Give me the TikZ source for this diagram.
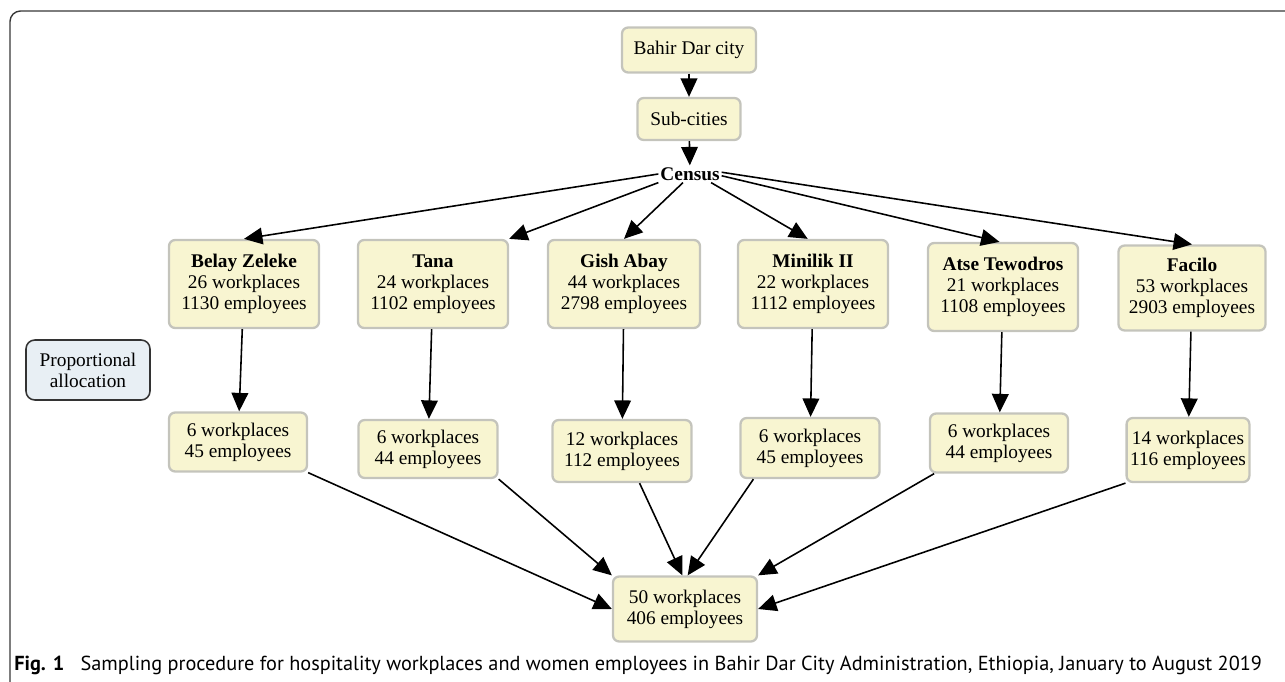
\documentclass[tikz,border=0pt]{standalone}
\usepackage{fontspec}
\setmainfont{Liberation Serif}
\newfontfamily\capfont{PT Sans}
\usepackage{xcolor}
\usetikzlibrary{arrows.meta}

\definecolor{boxfill}{RGB}{248,245,209}
\definecolor{boxline}{RGB}{196,196,188}
\definecolor{notefill}{RGB}{232,239,244}
\definecolor{frameline}{RGB}{55,55,55}

\begin{document}
\begin{tikzpicture}[x=0.02cm, y=-0.02cm,
    box/.style={draw=boxline, line width=1.3pt, fill=boxfill, rounded corners=3.5pt,
        align=center, inner sep=2pt, font=\fontsize{11}{12}\selectfont},
    note/.style={draw=black!80, line width=0.9pt, fill=notefill, rounded corners=5pt,
        align=center, inner sep=2pt, font=\fontsize{11}{12}\selectfont},
    edge/.style={line width=0.9pt, -{Triangle[length=10.5pt,width=9.5pt]}}]
    \useasboundingbox (0,0) rectangle (1285,682);

    % frame round the figure
    \draw[frameline, line width=0.8pt, rounded corners=6pt] (10,682) -- (10,11) -- (1285,11);

    \node[box, minimum width=2.68cm, minimum height=0.9cm] (city) at (689,50) {Bahir Dar city};
    \node[box, minimum width=2.06cm, minimum height=0.84cm] (sub) at (689,119) {Sub-cities};
    \node[font=\fontsize{11}{12}\selectfont\bfseries, inner sep=1pt] (census) at (690,174) {Census};

    % sub-cities
    \node[box, minimum width=3cm, minimum height=1.76cm] (bz) at (244,284) {\textbf{Belay Zeleke}\\26 workplaces\\1130 employees};
    \node[box, minimum width=3cm, minimum height=1.76cm] (ta) at (433,284) {\textbf{Tana}\\24 workplaces\\1102 employees};
    \node[box, minimum width=3.04cm, minimum height=1.76cm] (ga) at (624,284) {\textbf{Gish Abay}\\44 workplaces\\2798 employees};
    \node[box, minimum width=3cm, minimum height=1.76cm] (mi) at (813,284) {\textbf{Minilik II}\\22 workplaces\\1112 employees};
    \node[box, minimum width=3cm, minimum height=1.76cm] (at) at (1003,287) {\textbf{Atse Tewodros}\\21 workplaces\\1108 employees};
    \node[box, minimum width=2.94cm, minimum height=1.7cm] (fa) at (1192,288) {\textbf{Facilo}\\53 workplaces\\2903 employees};

    \node[note, minimum width=2.48cm, minimum height=1.2cm] (prop) at (88,370) {Proportional\\allocation};

    % samples
    \node[box, minimum width=2.76cm, minimum height=1.18cm] (bz2) at (238,442) {6 workplaces\\45 employees};
    \node[box, minimum width=2.78cm, minimum height=1.16cm] (ta2) at (428,449) {6 workplaces\\44 employees};
    \node[box, minimum width=2.78cm, minimum height=1.24cm] (ga2) at (622,451) {12 workplaces\\112 employees};
    \node[box, minimum width=2.78cm, minimum height=1.2cm] (mi2) at (810,448) {6 workplaces\\45 employees};
    \node[box, minimum width=2.76cm, minimum height=1.18cm] (at2) at (999,443) {6 workplaces\\44 employees};
    \node[box, minimum width=2.34cm, minimum height=1.28cm] (fa2) at (1188,450) {14 workplaces\\116 employees};

    \node[box, minimum width=2.88cm, minimum height=1.3cm] (total) at (685,609) {50 workplaces\\406 employees};

    \draw[edge] (city) -- (sub);
    \draw[edge] (sub) -- (census);

    \draw[edge] (census.west) -- (bz.north);
    \draw[edge] (census.south west) -- (ta.north east);
    \draw[edge] ([xshift=-4pt]census.south) -- (ga.north);
    \draw[edge] ([xshift=-6pt]census.south east) -- ([xshift=-3pt]mi.north);
    \draw[edge] ([yshift=-1pt]census.east) -- ([xshift=-2pt]at.north);
    \draw[edge] ([yshift=1pt]census.east) -- (fa.north);

    \draw[edge] (bz) -- (bz2);
    \draw[edge] (ta) -- (ta2);
    \draw[edge] (ga) -- (ga2);
    \draw[edge] (mi) -- (mi2);
    \draw[edge] (at) -- (at2);
    \draw[edge] (fa) -- (fa2);

    \draw[edge] (bz2.south east) -- (total.west);
    \draw[edge] (ta2.south east) -- (total.north west);
    \draw[edge] ([xshift=10pt]ga2.south) -- ([xshift=-1.5pt]total.north);
    \draw[edge] ([xshift=8pt]mi2.south west) -- ([xshift=1.5pt]total.north);
    \draw[edge] ([xshift=3pt]at2.south west) -- (total.north east);
    \draw[edge] (fa2.south west) -- (total.east);

    \node[anchor=base west, inner sep=0pt, font=\capfont\fontsize{11.55}{13}\selectfont] (caption) at (14,670)
        {\textbf{Fig. 1}\hspace{0.8em}Sampling procedure for hospitality workplaces and women employees in Bahir Dar City Administration, Ethiopia, January to August 2019};
\end{tikzpicture}
\end{document}
